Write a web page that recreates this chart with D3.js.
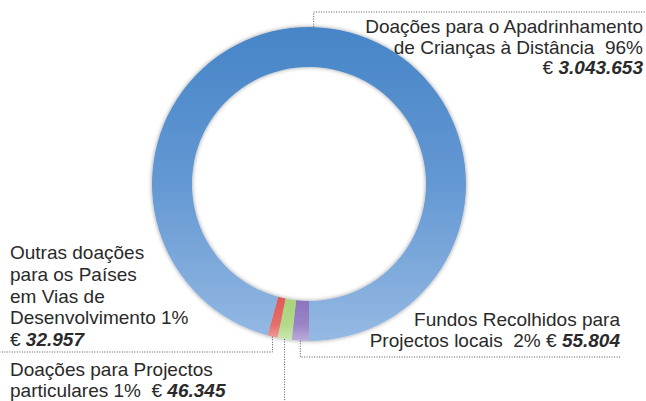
<!DOCTYPE html>
<html>
<head>
<meta charset="utf-8">
<script src="https://cdn.jsdelivr.net/npm/d3@7"></script>
<style>
  body { margin: 0; background: #fff; }
  text { font-family: "Liberation Sans", Arial, sans-serif; fill: #2a2a2a; white-space: pre; }
</style>
</head>
<body>
<div id="container"></div>
<script>
// slices in drawing order, clockwise starting at the bottom of the ring
let categories = ["Fundos Recolhidos para Projectos locais",
                  "Doações para Projectos particulares",
                  "Outras doações para os Países em Vias de Desenvolvimento",
                  "Doações para o Apadrinhamento de Crianças à Distância"];
let values = [55804, 46345, 32957, 3043653];
let percentLabels = ["2%", "1%", "1%", "96%"];
let valueLabels = ["55.804", "46.345", "32.957", "3.043.653"];

let w = 646;
let h = 401;
let cx = 309, cy = 184;
let outerR = 157, innerR = 117;

let colors = [
  ["#8a72bd", "#9a85c6", "#bcaedc"],
  ["#a6d378", "#b3da8a", "#d0e9b4"],
  ["#df5853", "#e56f6b", "#f2a8a8"],
  ["#4685c7", "#6498d3", "#95b9e3"]
];

let viz = d3.select("#container")
  .append("svg")
  .attr("width", w)
  .attr("height", h)
  .style("display", "block");

// gradients are in the ring group's own coordinates (centred on 0,0)
let defs = viz.append("defs");
colors.forEach(function (c, i) {
  let g = defs.append("linearGradient")
    .attr("id", "grad" + i)
    .attr("gradientUnits", "userSpaceOnUse")
    .attr("x1", 0).attr("x2", 0)
    .attr("y1", i == 3 ? -outerR : innerR - 5)
    .attr("y2", outerR);
  g.append("stop").attr("offset", "0%").attr("stop-color", c[0]);
  g.append("stop").attr("offset", i == 3 ? "50%" : "65%").attr("stop-color", c[1]);
  g.append("stop").attr("offset", "100%").attr("stop-color", c[2]);
});
let shadow = defs.append("filter").attr("id", "soft")
  .attr("x", "-10%").attr("y", "-10%").attr("width", "120%").attr("height", "120%");
shadow.append("feDropShadow")
  .attr("dx", 0).attr("dy", 0).attr("stdDeviation", 2.2)
  .attr("flood-color", "#000").attr("flood-opacity", 0.4);

let pie = d3.pie().sort(null).startAngle(Math.PI).endAngle(3 * Math.PI);
let arcs = pie(values);
let arc = d3.arc().innerRadius(innerR).outerRadius(outerR);

let ring = viz.append("g")
  .attr("transform", "translate(" + cx + "," + cy + ")")
  .attr("filter", "url(#soft)");

ring.selectAll("path")
  .data(arcs)
  .enter()
  .append("path")
  .attr("d", arc)
  .attr("fill", function (d, i) { return "url(#grad" + i + ")"; });

// point on the outer edge of the ring for a given angle
function edge(a) {
  return [cx + outerR * Math.sin(a), cy - outerR * Math.cos(a)];
}
function mid(d) { return (d.startAngle + d.endAngle) / 2; }

// leader lines and labels (layout only, text comes from the arrays above)
let layout = [
  { angle: mid(arcs[0]), lineY: 357, toX: 620, anchor: "end", x: 620, y: 326,
    lines: [[["Fundos Recolhidos para", false]],
            [["Projectos locais  " + percentLabels[0] + " € ", false], [valueLabels[0], true]]] },
  { angle: mid(arcs[1]), lineY: 405, toX: null, anchor: "start", x: 10, y: 376,
    lines: [[["Doações para Projectos", false]],
            [["particulares " + percentLabels[1] + "  € ", false], [valueLabels[1], true]]] },
  { angle: mid(arcs[2]), lineY: 352, toX: 0, anchor: "start", x: 10, y: 259,
    lines: [[["Outras doações", false]],
            [["para os Países", false]],
            [["em Vias de", false]],
            [["Desenvolvimento " + percentLabels[2], false]],
            [["€ ", false], [valueLabels[2], true]]] },
  { angle: 2 * Math.PI + 0.03, lineY: 12, toX: 645, anchor: "end", x: 643, y: 33,
    lines: [[["Doações para o Apadrinhamento", false]],
            [["de Crianças à Distância  " + percentLabels[3], false]],
            [["€ ", false], [valueLabels[3], true]]] }
];

let leaders = viz.append("g").attr("class", "leaders");
layout.forEach(function (l) {
  let p = edge(l.angle);
  let pts = [[p[0], p[1]], [p[0], l.lineY]];
  if (l.toX !== null) pts.push([l.toX, l.lineY]);
  leaders.append("path")
    .attr("d", d3.line()(pts))
    .attr("fill", "none")
    .attr("stroke", "#555")
    .attr("stroke-width", 1)
    .attr("stroke-dasharray", "1,1.5");
});

let labelGroup = viz.append("g").attr("class", "labels");
layout.forEach(function (l) {
  let lineH = l.lines.length > 3 ? 21.8 : 20.6;
  l.lines.forEach(function (line, j) {
    let t = labelGroup.append("text")
      .attr("x", l.x)
      .attr("y", l.y + j * lineH)
      .attr("text-anchor", l.anchor)
      .style("font-size", "19px");
    line.forEach(function (part) {
      let s = t.append("tspan").text(part[0]);
      if (part[1]) s.style("font-weight", "bold").style("font-style", "italic");
    });
  });
});
</script>
</body>
</html>
